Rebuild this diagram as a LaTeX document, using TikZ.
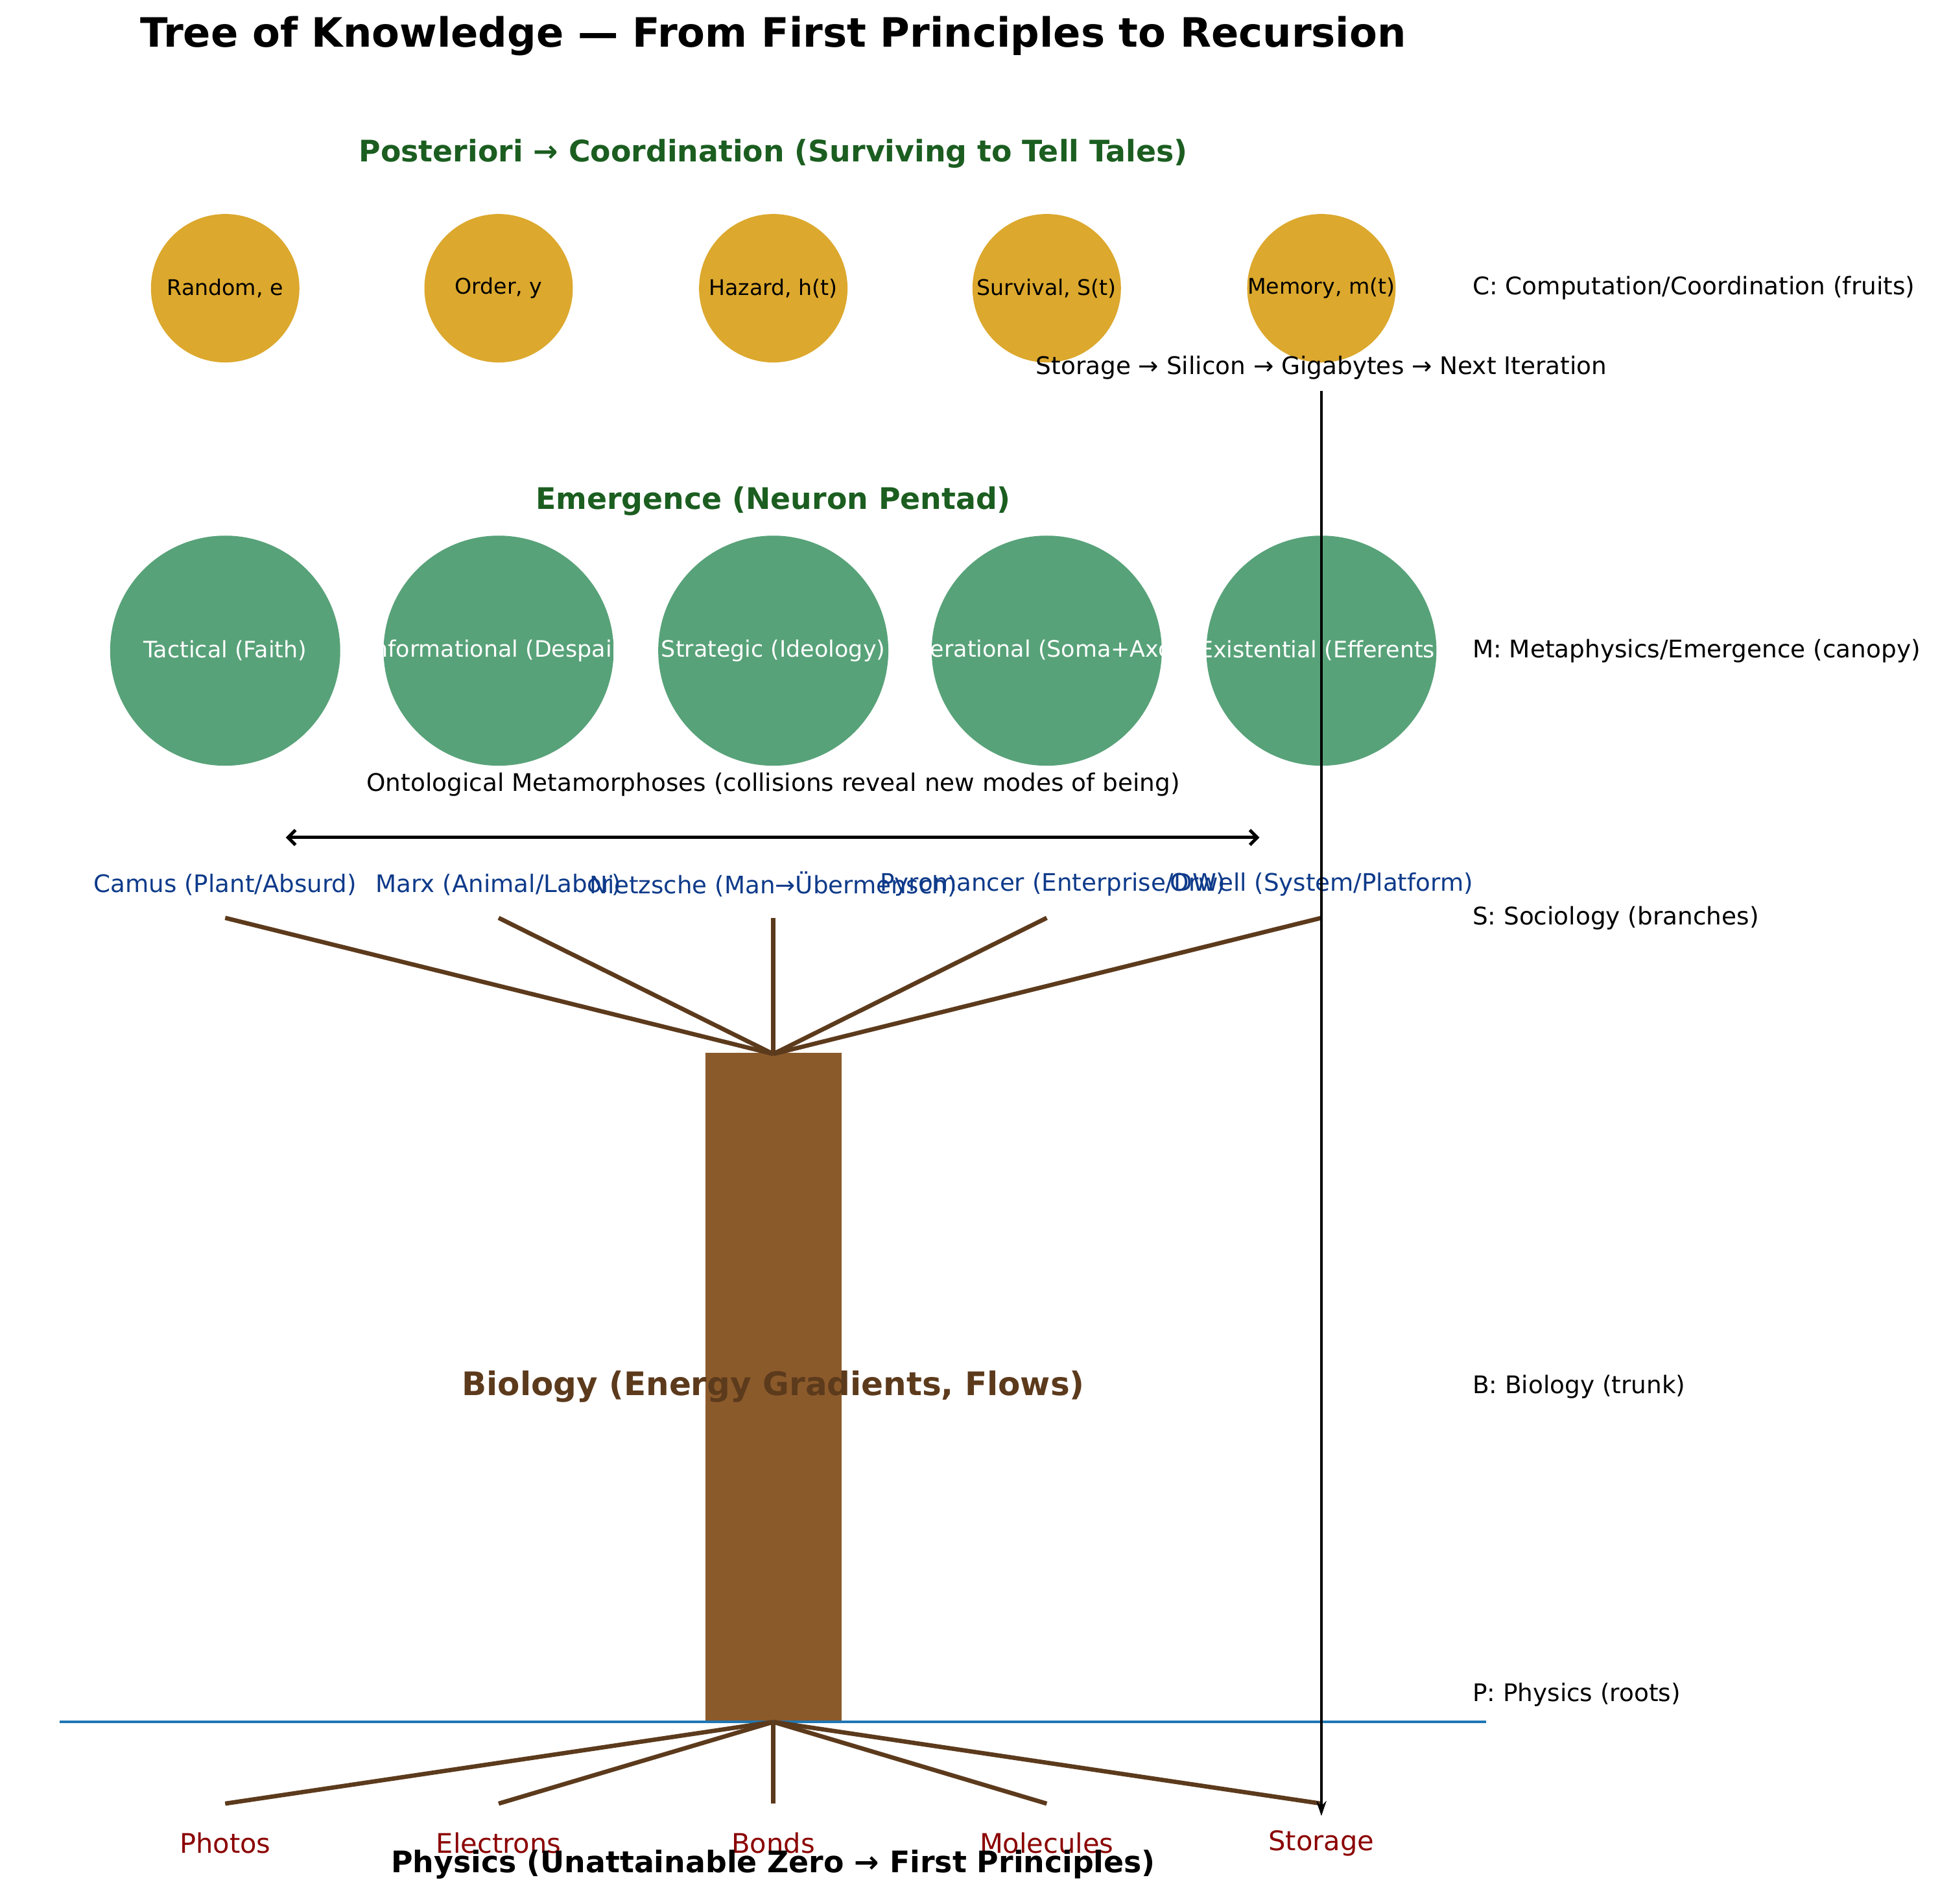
\documentclass[tikz,border=0pt]{standalone}
\usepackage{fontspec}
\setmainfont{DejaVu Sans}
\usetikzlibrary{arrows.meta}

\definecolor{fruitgold}{RGB}{220,168,45}
\definecolor{canopygreen}{RGB}{88,162,121}
\definecolor{headgreen}{RGB}{27,94,32}
\definecolor{barkbrown}{RGB}{139,90,43}
\definecolor{woodline}{RGB}{92,58,28}
\definecolor{branchblue}{RGB}{14,58,138}
\definecolor{rootred}{RGB}{139,0,0}
\definecolor{groundblue}{RGB}{31,119,180}

\tikzset{
  titletext/.style={font=\fontsize{32.7}{38}\bfseries\selectfont, anchor=center, inner sep=0},
  headtext/.style={font=\fontsize{24}{28}\bfseries\selectfont, text=headgreen, anchor=center, inner sep=0},
  bodytext/.style={font=\fontsize{19.6}{23}\selectfont, anchor=center, inner sep=0},
  sidetext/.style={font=\fontsize{19.6}{23}\selectfont, anchor=west, inner sep=0},
  fruitdisk/.style={circle, fill=fruitgold, minimum size=120pt, inner sep=0},
  fruitlabel/.style={font=\fontsize{17.4}{21}\selectfont, anchor=center, inner sep=0},
  leafdisk/.style={circle, fill=canopygreen, minimum size=186pt, inner sep=0},
  leaflabel/.style={font=\fontsize{18.3}{22}\selectfont, text=white, anchor=center, inner sep=0},
  branchlabel/.style={font=\fontsize{19.5}{23}\selectfont, text=branchblue, anchor=center, inner sep=0},
  rootlabel/.style={font=\fontsize{21.8}{26}\selectfont, text=rootred, anchor=center, inner sep=0},
  wood/.style={draw=woodline, line width=3.5pt},
  flowarrow/.style={draw=black, line width=2.4pt, -{Stealth[length=12pt,width=8pt]}},
  spanarrow/.style={draw=black, line width=2.6pt, {Straight Barb[length=6pt,width=12pt]}-{Straight Barb[length=6pt,width=12pt]}},
}

\begin{document}
\begin{tikzpicture}[x=1pt, y=-1pt]
  \useasboundingbox (0,0) rectangle (1568,1539);
  \fill[white] (0,0) rectangle (1568,1539);

  % title
  \node[titletext] (title) at (625,29) {Tree of Knowledge — From First Principles to Recursion};

  % fruits
  \node[headtext] (fruithead) at (625,124) {Posteriori → Coordination (Surviving to Tell Tales)};
  \node[fruitdisk] (f1) at (182,233) {};
  \node[fruitdisk] (f2) at (403,233) {};
  \node[fruitdisk] (f3) at (625,233) {};
  \node[fruitdisk] (f4) at (846,233) {};
  \node[fruitdisk] (f5) at (1068,233) {};
  \node[fruitlabel] (fl1) at (f1) {Random, e};
  \node[fruitlabel] (fl2) at (f2) {Order, y};
  \node[fruitlabel] (fl3) at (f3) {Hazard, h(t)};
  \node[fruitlabel] (fl4) at (f4) {Survival, S(t)};
  \node[fruitlabel] (fl5) at (f5) {Memory, m(t)};
  \node[bodytext] (iter) at (1068,297) {Storage → Silicon → Gigabytes → Next Iteration};

  % canopy
  \node[headtext] (canopyhead) at (625,405) {Emergence (Neuron Pentad)};
  \node[leafdisk] (n1) at (182,526) {};
  \node[leafdisk] (n2) at (403,526) {};
  \node[leafdisk] (n3) at (625,526) {};
  \node[leafdisk] (n4) at (846,526) {};
  \node[leafdisk] (n5) at (1068,526) {};
  \node[leaflabel] (nl1) at (n1) {Tactical (Faith)};
  \node[leaflabel] (nl2) at (n2) {Informational (Despair)};
  \node[leaflabel] (nl3) at (n3) {Strategic (Ideology)};
  \node[leaflabel] (nl4) at (n4) {Operational (Soma+Axon)};
  \node[leaflabel] (nl5) at (n5) {Existential (Efferents)};

  \node[bodytext] (meta) at (625,634) {Ontological Metamorphoses (collisions reveal new modes of being)};
  \coordinate (spanL) at (231,677);
  \coordinate (spanR) at (1018,677);
  \draw[spanarrow] (spanL) -- (spanR);

  % branches
  \node[branchlabel] (s1) at (182,715) {Camus (Plant/Absurd)};
  \node[branchlabel] (s2) at (403,715) {Marx (Animal/Labor)};
  \node[branchlabel] (s3) at (625,715) {Nietzsche (Man→Übermensch)};
  \node[branchlabel] (s4) at (851,715) {Pyromancer (Enterprise/DW)};
  \node[branchlabel] (s5) at (1068,715) {Orwell (System/Platform)};
  \coordinate (crown) at (625,852);
  \coordinate (b1) at (182,742);
  \coordinate (b2) at (403,742);
  \coordinate (b3) at (625,742);
  \coordinate (b4) at (846,742);
  \coordinate (b5) at (1068,742);

  % trunk
  \fill[barkbrown] (570,851) rectangle (680,1392);
  \foreach \b in {b1,b2,b3,b4,b5} \draw[wood] (crown) -- (\b);
  \node[font=\fontsize{26.2}{30}\bfseries\selectfont, text=woodline, inner sep=0] (biology) at (625,1121) {Biology (Energy Gradients, Flows)};

  % ground and roots
  \coordinate (groundL) at (48,1392);
  \coordinate (groundR) at (1201,1392);
  \draw[groundblue, line width=2pt] (groundL) -- (groundR);
  \coordinate (base) at (625,1392);
  \coordinate (r1) at (182,1458);
  \coordinate (r2) at (403,1458);
  \coordinate (r3) at (625,1458);
  \coordinate (r4) at (846,1458);
  \coordinate (r5) at (1068,1458);
  \foreach \r in {r1,r2,r3,r4,r5} \draw[wood] (base) -- (\r);
  \node[rootlabel] (p1) at (182,1490) {Photos};
  \node[rootlabel] (p2) at (403,1490) {Electrons};
  \node[rootlabel] (p3) at (625,1490) {Bonds};
  \node[rootlabel] (p4) at (846,1490) {Molecules};
  \node[rootlabel] (p5) at (1068,1490) {Storage};
  \node[font=\fontsize{24}{28}\bfseries\selectfont, inner sep=0] (physics) at (625,1507) {Physics (Unattainable Zero → First Principles)};

  % recursion arrow from memory back down to storage
  \coordinate (loopTop) at (1068,316);
  \coordinate (loopEnd) at (1068,1468);
  \draw[flowarrow] (loopTop) -- (loopEnd);

  % level legend
  \node[sidetext] (legC) at (1190,233) {C: Computation/Coordination (fruits)};
  \node[sidetext] (legM) at (1190,526) {M: Metaphysics/Emergence (canopy)};
  \node[sidetext] (legS) at (1190,742) {S: Sociology (branches)};
  \node[sidetext] (legB) at (1190,1121) {B: Biology (trunk)};
  \node[sidetext] (legP) at (1190,1370) {P: Physics (roots)};
\end{tikzpicture}
\end{document}
